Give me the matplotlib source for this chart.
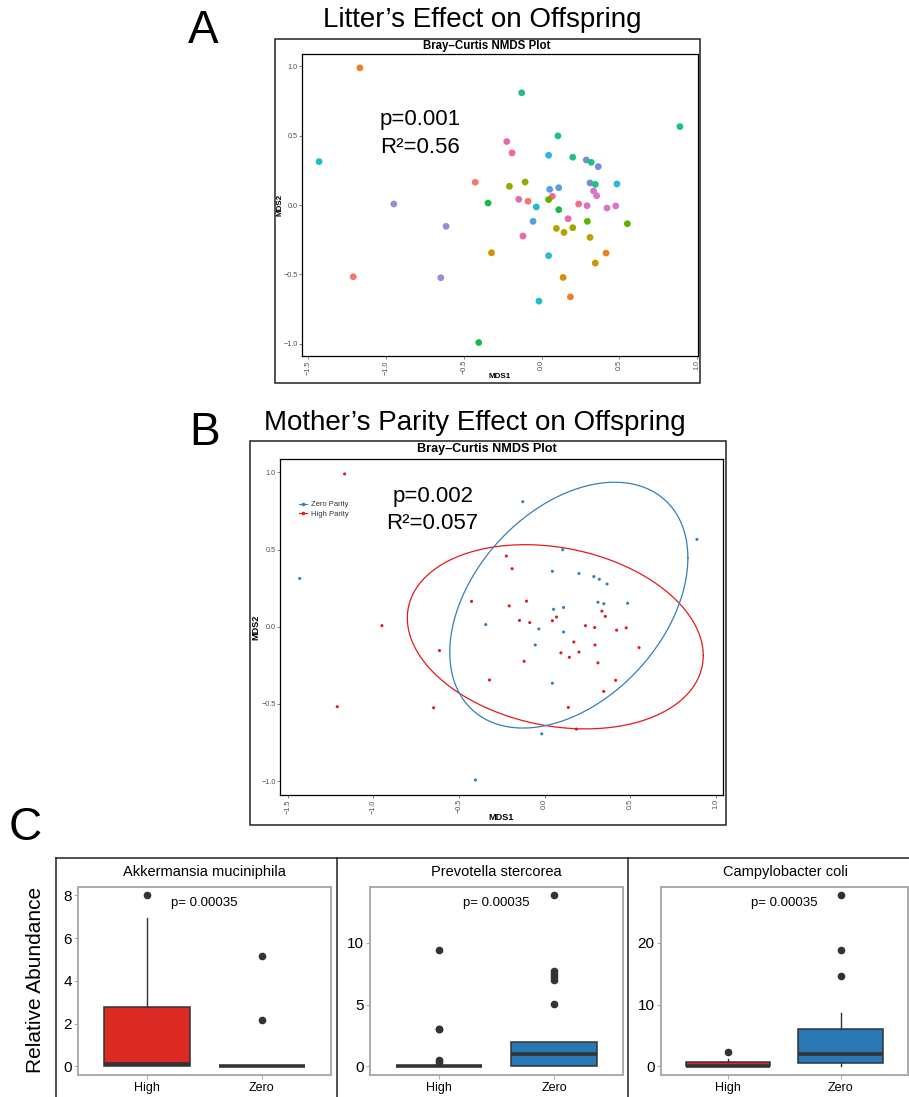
import numpy as np
import matplotlib
matplotlib.use('Agg')
import matplotlib.pyplot as plt
from matplotlib.patches import Rectangle
from matplotlib.lines import Line2D

plt.rcParams['font.family'] = ['Liberation Sans', 'DejaVu Sans']

W, H = 909, 1097

# NMDS coordinates (same samples in A and B)
mds1 = [-1.168, -1.43, -0.95, -0.614, -0.648, -1.211, -0.427, -0.344, -0.404, -0.322,
        -0.128, 0.105, 0.889, -0.224, -0.19, 0.045, 0.20, 0.287, 0.319, 0.364,
        -0.207, -0.106, 0.052, 0.11, 0.069, 0.045, -0.147, -0.087, -0.034, 0.11,
        -0.055, 0.17, 0.238, 0.292, 0.311, 0.345, 0.334, 0.354, 0.484, 0.42,
        0.476, 0.551, 0.294, 0.095, 0.144, 0.2, -0.12, 0.311, 0.414, 0.345,
        0.138, 0.185, 0.045, -0.017]
mds2 = [0.99, 0.313, 0.007, -0.154, -0.525, -0.518, 0.164, 0.014, -0.993, -0.345,
        0.81, 0.499, 0.566, 0.458, 0.376, 0.359, 0.345, 0.325, 0.308, 0.277,
        0.135, 0.166, 0.113, 0.125, 0.063, 0.039, 0.041, 0.027, -0.014, -0.034,
        -0.118, -0.099, 0.007, -0.005, 0.159, 0.149, 0.101, 0.067, 0.152, -0.022,
        -0.007, -0.135, -0.118, -0.169, -0.198, -0.164, -0.224, -0.234, -0.347, -0.419,
        -0.523, -0.663, -0.366, -0.694]
litter = ['orange', 'cyan', 'purple', 'purple', 'purple', 'salmon', 'salmon', 'green', 'green', 'ochre',
          'teal', 'teal', 'teal', 'pink', 'pinkred', 'sky', 'teal', 'slate', 'teal', 'slate',
          'olive', 'olive', 'blue', 'blue', 'pinkred', 'lgreen', 'pink', 'salmon', 'cyan', 'green',
          'blue', 'pink', 'pinkred', 'orchid', 'slate', 'teal', 'orchid', 'orchid', 'sky', 'orchid',
          'orchid', 'lgreen', 'lgreen', 'gold', 'gold', 'olive', 'pink', 'gold', 'orange', 'ochre',
          'ochre', 'orange', 'sky', 'cyan']
litter_colors = {'salmon': '#F8766D', 'orange': '#E8822A', 'ochre': '#D39200', 'gold': '#B8A000',
                 'olive': '#9AA800', 'lgreen': '#5BB300', 'green': '#1DB84A', 'teal': '#1EC08A',
                 'cyan': '#1FBFC8', 'sky': '#2DB5E5', 'blue': '#5B9FD8', 'slate': '#7090D0',
                 'purple': '#A08AD8', 'orchid': '#D875C8', 'pink': '#E66BAE', 'pinkred': '#F46A8E'}
zero_litters = ['cyan', 'green', 'teal', 'sky', 'blue', 'slate']

# ellipse centres and shape matrices (MDS1, MDS2)
ell_center = {'Zero': [0.141, 0.14], 'High': [0.062, -0.065]}
ell_shape = {'Zero': [[0.483, 0.213], [0.213, 0.634]],
             'High': [[0.746, -0.105], [-0.105, 0.356]]}
parity_colors = {'Zero': '#377EB8', 'High': '#E41A1C'}

# panel C box summaries
species = ['Akkermansia muciniphila', 'Prevotella stercorea', 'Campylobacter coli']
yticks_c = [[0, 2, 4, 6, 8], [0, 5, 10], [0, 10, 20]]
high_q1 = [0.0, 0.0, 0.0]
high_med = [0.12, 0.0, 0.0]
high_q3 = [2.8, 0.0, 0.75]
high_lo = [0.0, 0.0, 0.0]
high_hi = [6.94, 0.0, 1.2]
high_out = [[8.0], [0.32, 0.49, 3.0, 3.05, 9.4], [2.27]]
zero_q1 = [0.0, 0.0, 0.6]
zero_med = [0.0, 1.03, 2.0]
zero_q3 = [0.0, 1.97, 6.1]
zero_lo = [0.0, 0.0, 0.0]
zero_hi = [0.0, 1.97, 8.65]
zero_out = [[2.15, 5.18], [5.08, 7.0, 7.25, 7.5, 7.75, 13.86], [14.6, 18.8, 27.7]]
p_value = 'p= 0.00035'

fig = plt.figure(figsize=(W / 100, H / 100), dpi=100)


def px_axes(x0, y0, x1, y1):
    return fig.add_axes([x0 / W, 1 - y1 / H, (x1 - x0) / W, (y1 - y0) / H])


def ftext(x, y, s, **kw):
    fig.text(x / W, 1 - y / H, s, ha='center', va='center', **kw)


def frame(x0, y0, x1, y1, lw=1.1):
    fig.add_artist(Rectangle((x0 / W, 1 - y1 / H), (x1 - x0) / W, (y1 - y0) / H,
                             transform=fig.transFigure, fill=False, ec='#222222', lw=lw))


def nmds_axes(ax, xlim):
    ax.set_xlim(xlim)
    ax.set_ylim(-1.09, 1.09)
    ax.set_xticks([-1.5, -1.0, -0.5, 0.0, 0.5, 1.0])
    ax.set_yticks([-1.0, -0.5, 0.0, 0.5, 1.0])
    ax.set_xticklabels(['\u22121.5', '\u22121.0', '\u22120.5', '0.0', '0.5', '1.0'])
    ax.set_yticklabels(['\u22121.0', '\u22120.5', '0.0', '0.5', '1.0'])
    ax.tick_params(labelsize=5.2, colors='#4D4D4D', length=2, width=0.5, pad=1)
    ax.tick_params(axis='x', labelrotation=90)
    for sp in ax.spines.values():
        sp.set_linewidth(0.9)
        sp.set_color('black')


# ---- A ----
ftext(203, 31, 'A', fontsize=33)
ftext(482, 20, 'Litter\u2019s Effect on Offspring', fontsize=20)
frame(275, 39, 700, 383)
axA = px_axes(302, 54, 698, 356)
cols = [litter_colors[l] for l in litter]
axA.scatter(mds1, mds2, s=24, c=cols, edgecolors='none', zorder=3)
nmds_axes(axA, (-1.54, 1.005))
axA.text(-0.78, 0.614, 'p=0.001', fontsize=16, ha='center', va='center')
axA.text(-0.78, 0.417, 'R\u00b2=0.56', fontsize=16, ha='center', va='center')
ftext(487, 45.5, 'Bray\u2013Curtis NMDS Plot', fontsize=8.3, fontweight='bold')
ftext(280, 205, 'MDS2', fontsize=5.8, fontweight='bold', rotation=90)
ftext(500, 376, 'MDS1', fontsize=5.8, fontweight='bold')

# ---- B ----
ftext(205, 433, 'B', fontsize=33)
ftext(475, 423, 'Mother\u2019s Parity Effect on Offspring', fontsize=20)
frame(250, 441, 725.5, 825)
axB = px_axes(280, 458.5, 723, 795)
x = np.array(mds1)
y = np.array(mds2)
is_zero = np.array([l in zero_litters for l in litter])
t = np.linspace(0, 2 * np.pi, 300)
for grp, mask in [('High', ~is_zero), ('Zero', is_zero)]:
    axB.scatter(x[mask], y[mask], s=5, c=parity_colors[grp], edgecolors='none', zorder=3)
    L = np.linalg.cholesky(np.array(ell_shape[grp]))
    e = np.array(ell_center[grp])[:, None] + L @ np.vstack([np.cos(t), np.sin(t)])
    axB.plot(e[0], e[1], color=parity_colors[grp], lw=0.9)
nmds_axes(axB, (-1.545, 1.041))
axB.text(-0.654, 0.843, 'p=0.002', fontsize=16, ha='center', va='center')
axB.text(-0.654, 0.67, 'R\u00b2=0.057', fontsize=16, ha='center', va='center')
handles = [Line2D([], [], color=parity_colors['Zero'], marker='o', ms=1.6, lw=0.8),
           Line2D([], [], color=parity_colors['High'], marker='o', ms=1.6, lw=0.8)]
axB.legend(handles, ['Zero Parity', 'High Parity'], loc='upper left', bbox_to_anchor=(0.035, 0.885),
           frameon=False, fontsize=5.5, handlelength=1.0, handletextpad=0.5, labelspacing=0.3,
           borderpad=0, labelcolor='#333333')
ftext(487, 449, 'Bray\u2013Curtis NMDS Plot', fontsize=9.1, fontweight='bold')
ftext(256, 627, 'MDS2', fontsize=6.6, fontweight='bold', rotation=90)
ftext(501, 818, 'MDS1', fontsize=6.6, fontweight='bold')

# ---- C ----
ftext(25, 828, 'C', fontsize=33)
fig.add_artist(Line2D([56 / W, 1], [1 - 858 / H] * 2, transform=fig.transFigure, color='#222222', lw=1.1))
for xv in [56, 337, 628]:
    fig.add_artist(Line2D([xv / W] * 2, [1 - 858 / H, 0], transform=fig.transFigure, color='#222222', lw=1.1))
ftext(36, 980, 'Relative Abundance', fontsize=15, rotation=90)

panel_x = [(78.3, 330.7), (370, 623.3), (660.7, 908)]
box_cols = ['#DC2A24', '#2878B5']
for i in range(3):
    ax = px_axes(panel_x[i][0], 886.7, panel_x[i][1], 1075)
    stats = [dict(med=high_med[i], q1=high_q1[i], q3=high_q3[i], whislo=high_lo[i], whishi=high_hi[i],
                  fliers=high_out[i]),
             dict(med=zero_med[i], q1=zero_q1[i], q3=zero_q3[i], whislo=zero_lo[i], whishi=zero_hi[i],
                  fliers=zero_out[i])]
    bp = ax.bxp(stats, positions=[1, 2], widths=0.75, patch_artist=True, showcaps=False,
                boxprops=dict(ec='#333333', lw=1.1),
                medianprops=dict(color='#333333', lw=2.6, solid_capstyle='butt'),
                whiskerprops=dict(color='#333333', lw=1.0),
                flierprops=dict(marker='o', markerfacecolor='#333333', markeredgecolor='#333333',
                                markersize=4.5))
    for patch, c in zip(bp['boxes'], box_cols):
        patch.set_facecolor(c)
    allv = [high_lo[i], high_hi[i], zero_lo[i], zero_hi[i]] + high_out[i] + zero_out[i]
    lo, hi = min(allv), max(allv)
    pad = 0.05 * (hi - lo)
    ax.set_ylim(lo - pad, hi + pad)
    ax.set_xlim(0.4, 2.6)
    ax.set_yticks(yticks_c[i])
    ax.set_xticks([1, 2])
    ax.set_xticklabels(['High', 'Zero'])
    ax.tick_params(axis='y', labelsize=11, length=3, width=0.6, color='#999999', pad=1.5)
    ax.tick_params(axis='x', labelsize=9, length=3, width=0.6, color='#999999', pad=2)
    for sp in ax.spines.values():
        sp.set_color('#ABABAB')
        sp.set_linewidth(1.4)
    ax.text(1.5, hi - 0.045 * (hi - lo), p_value, fontsize=9.5, ha='center', va='center')
    ftext(sum(panel_x[i]) / 2 if i < 2 else 785.5, 872, species[i], fontsize=10.5)

fig.savefig('out.png', dpi=100)
